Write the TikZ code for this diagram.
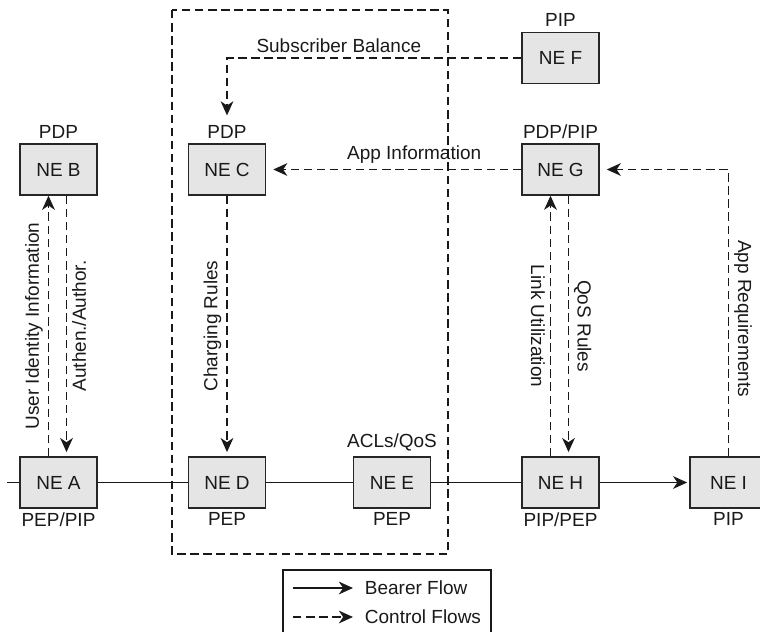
\documentclass[tikz,border=0pt]{standalone}
\usepackage{fontspec}
\setmainfont{Liberation Sans}
\usetikzlibrary{arrows.meta}

\begin{document}
\begin{tikzpicture}[
  x=0.025cm, y=-0.025cm,
  font=\fontsize{13.5}{15}\selectfont,
  ne/.style={draw=black!85, line width=1pt, fill=black!10, text=black!90, minimum width=1.925cm, minimum height=1.275cm},
  role/.style={text=black!90},
  bearer/.style={line width=1.35pt, draw=black!90},
  control/.style={line width=1.3pt, draw=black!90, dash pattern=on 6pt off 3.3pt},
  flow/.style={-{Stealth[length=10pt, width=9pt, inset=3pt]}},
  vlabel/.style={midway, text=black!90}
]
\useasboundingbox (0,0) rectangle (760,631);

\node[ne, label={[role]above:PDP}] (neB) at (58.5,169.5) {NE B};
\node[ne, label={[role, name=pdpC]above:PDP}] (neC) at (227,169.5) {NE C};
\node[ne, label={[role]above:PIP}] (neF) at (560.5,58) {NE F};
\node[ne, label={[role]above:PDP/PIP}] (neG) at (560.5,169.5) {NE G};

\node[ne, label={[role, label distance=-1pt]below:PEP/PIP}] (neA) at (58.5,482.5) {NE A};
\node[ne, label={[role, label distance=-1pt]below:PEP}] (neD) at (227,482.5) {NE D};
\node[ne, label={[role]above:ACLs/QoS}, label={[role, label distance=-1pt]below:PEP}] (neE) at (392,482.5) {NE E};
\node[ne, label={[role, label distance=-1pt]below:PIP/PEP}] (neH) at (560.5,482.5) {NE H};
\node[ne, label={[role, label distance=-1pt]below:PIP}] (neI) at (728.5,482.5) {NE I};

\coordinate (lineStart) at (7,482.5);
\draw[bearer] (lineStart) -- (neA.west);
\draw[bearer] (neA.east) -- (neD.west);
\draw[bearer] (neD.east) -- (neE.west);
\draw[bearer] (neE.east) -- (neH.west);
\draw[bearer, flow, shorten >=1.5pt] (neH.east) -- (neI.west);

\draw[control, flow] ([xshift=-0.25cm]neA.north) --
  node[vlabel, rotate=90, anchor=south] {User Identity Information} ([xshift=-0.25cm]neB.south);
\draw[control, flow, shorten >=3pt] ([xshift=0.2cm]neB.south) --
  node[vlabel, rotate=90, anchor=north] {Authen./Author.} ([xshift=0.2cm]neA.north);
\draw[control, flow, shorten >=3pt] (neC.south) --
  node[vlabel, rotate=90, anchor=south] {Charging Rules} (neD.north);
\draw[control, flow, shorten >=3.5pt] (neF.west) -|
  node[pos=0.31, above, role] {Subscriber Balance} (pdpC.north);
\draw[control, flow, shorten >=5pt] (neG.west) --
  node[pos=0.42, above, role] {App Information} (neC.east);
\draw[control, flow] ([xshift=-0.25cm]neH.north) --
  node[vlabel, rotate=-90, anchor=north] {Link Utilization} ([xshift=-0.25cm]neG.south);
\draw[control, flow, shorten >=3pt] ([xshift=0.2cm]neG.south) --
  node[vlabel, rotate=-90, anchor=south] {QoS Rules} ([xshift=0.2cm]neH.north);
\draw[control, flow, shorten >=5pt] (neI.north) |-
  node[pos=0.24, rotate=-90, anchor=south, role] {App Requirements} (neG.east);

\draw[control] (172,10) rectangle (448,554);

\draw[line width=1pt, draw=black!90] (283,570) rectangle (491,660);
\coordinate (bearerKey) at (293,588);
\node[role, anchor=west] (bearerText) at (360,588) {Bearer Flow};
\draw[bearer, flow, shorten >=5pt] (bearerKey) -- (bearerText.west);
\coordinate (controlKey) at (293,617);
\node[role, anchor=west] (controlText) at (360,617) {Control Flows};
\draw[control, flow, shorten >=5pt] (controlKey) -- (controlText.west);

\end{tikzpicture}
\end{document}
